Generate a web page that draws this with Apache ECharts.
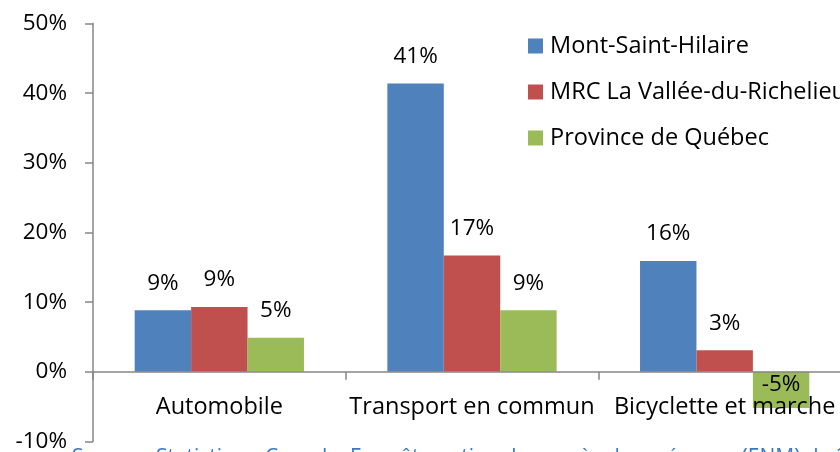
<!DOCTYPE html>
<html>
<head>
<meta charset="utf-8">
<script src="https://cdn.jsdelivr.net/npm/echarts@6/dist/echarts.min.js"></script>
<style>
html,body{margin:0;padding:0;background:#fff;}
#chart{width:840px;height:452px;}
</style>
</head>
<body>
<div id="chart"></div>
<script>
const categories = ['Automobile', 'Transport en commun', 'Bicyclette et marche'];
const seriesNames = ['Mont-Saint-Hilaire', 'MRC La Vallée-du-Richelieu', 'Province de Québec'];
const montSaintHilaire = [8.85, 41.4, 15.9];
const mrcValleeRichelieu = [9.3, 16.7, 3.1];
const provinceQuebec = [4.9, 8.85, -5.2];
const seriesLabels = [['9%', '41%', '16%'], ['9%', '17%', '3%'], ['5%', '9%', '-5%']];
const yTicks = [-10, 0, 10, 20, 30, 40, 50];
const sourceText = 'Source : Statistique Canada, Enquête nationale auprès des ménages (ENM) de 2011';

const colors = ['#4F81BD', '#C0504D', '#9BBB59'];
const FONT = 'Open Sans';
const FS_NUM = 22.5;
const FS_TXT = 23.5;
const allValues = [montSaintHilaire, mrcValleeRichelieu, provinceQuebec];

const GRID_TOP = 23.5, GRID_H = 418;
const yMin = yTicks[0], yMax = yTicks[yTicks.length - 1];
// put the category axis on the zero line (labels included)
const zeroOffset = -GRID_H * (0 - yMin) / (yMax - yMin);

const chart = echarts.init(document.getElementById('chart'), null, {renderer: 'canvas'});

const series = allValues.map((vals, si) => ({
  name: seriesNames[si],
  type: 'bar',
  barGap: '0%',
  barCategoryGap: '33%',
  itemStyle: {color: colors[si]},
  data: vals.map((v, i) => {
    const item = {value: v};
    if (v < 0) {
      item.label = {position: 'insideTop', distance: 0};
    }
    return item;
  }),
  label: {
    show: true,
    position: 'top',
    distance: 14,
    color: '#000',
    fontFamily: FONT,
    fontSize: FS_NUM,
    lineHeight: 26,
    formatter: (p) => seriesLabels[si][p.dataIndex]
  }
}));

chart.setOption({
  animation: false,
  textStyle: {fontFamily: FONT},
  grid: {left: 93, top: GRID_TOP, width: 758, height: GRID_H, containLabel: false, outerBoundsMode: 'none'},
  legend: {
    orient: 'vertical',
    left: 528,
    top: 33,
    padding: 0,
    itemWidth: 15,
    itemHeight: 15,
    itemGap: 20,
    icon: 'rect',
    textStyle: {color: '#000', fontFamily: FONT, fontSize: FS_TXT, lineHeight: 26, padding: [0, 0, 0, 2]},
    data: seriesNames
  },
  xAxis: {
    type: 'category',
    data: categories,
    z: 3,
    offset: zeroOffset,
    axisLine: {show: true, onZero: false, lineStyle: {color: '#868686', width: 1.5}},
    axisTick: {show: true, length: 8, lineStyle: {color: '#868686', width: 1.5}},
    axisLabel: {show: true, interval: 0, hideOverlap: false, margin: 22, color: '#000', fontFamily: FONT, fontSize: FS_TXT, lineHeight: 26}
  },
  yAxis: {
    type: 'value',
    min: yMin,
    max: yMax,
    interval: 10,
    axisLine: {show: true, lineStyle: {color: '#868686', width: 1.5}},
    axisTick: {show: true, length: 8, lineStyle: {color: '#868686', width: 1.5}},
    splitLine: {show: false},
    axisLabel: {margin: 26, color: '#000', fontFamily: FONT, fontSize: FS_NUM, formatter: (v) => v + '%'}
  },
  graphic: [{
    type: 'text',
    left: 72,
    top: 448,
    style: {text: sourceText, fill: '#3A78C4', font: '21px "' + FONT + '"'}
  }],
  series: series
});
</script>
</body>
</html>
